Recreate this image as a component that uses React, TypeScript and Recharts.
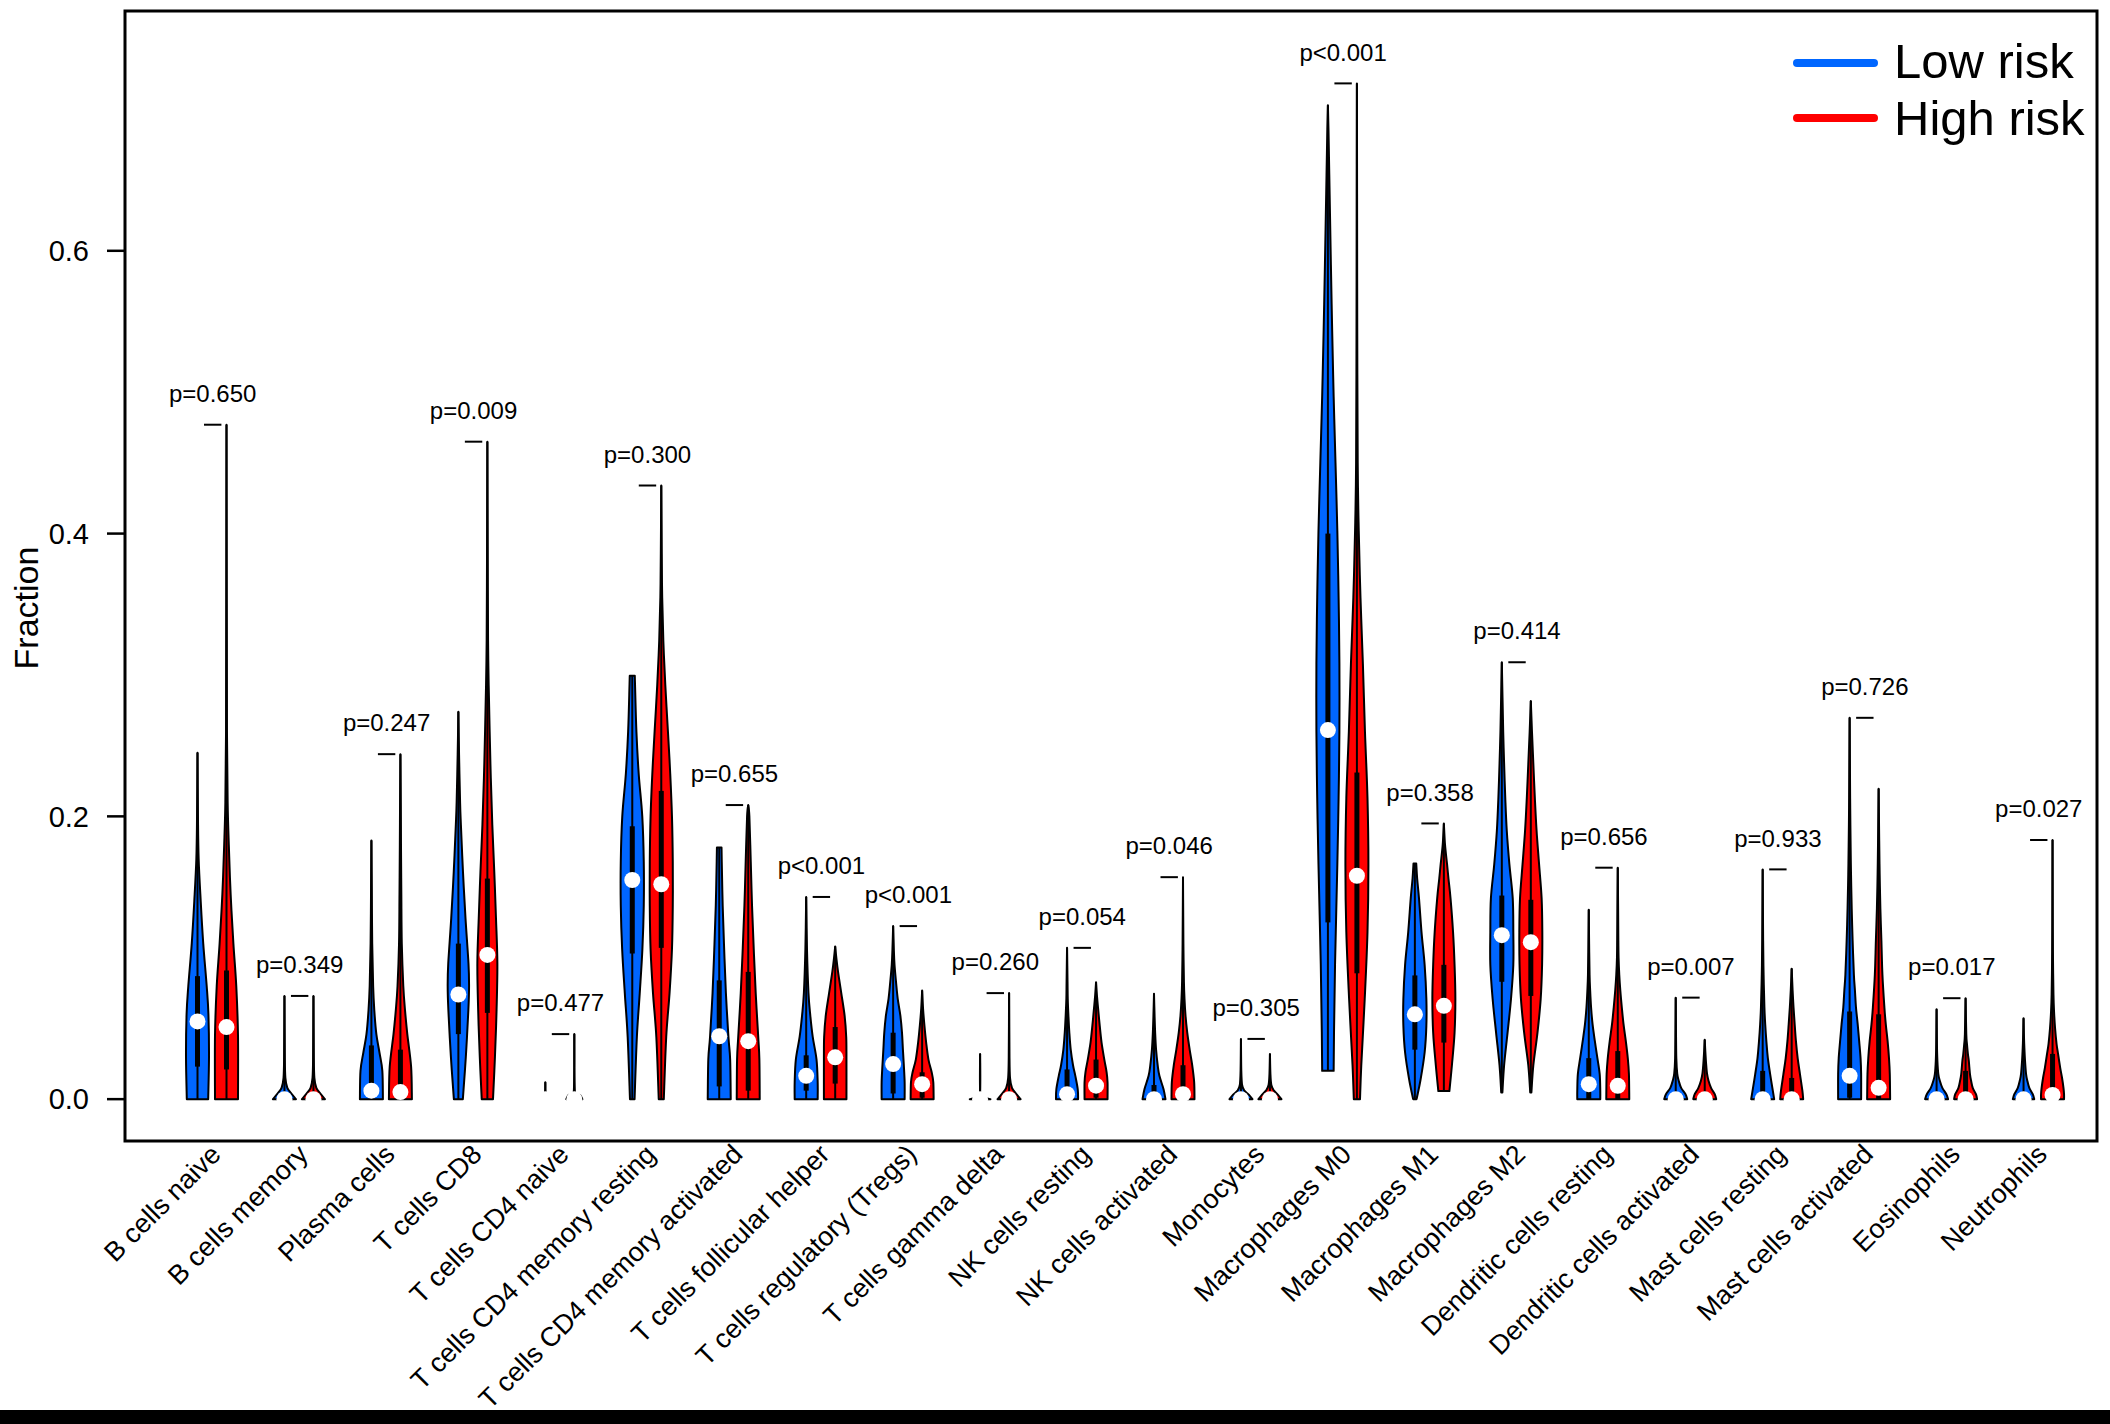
import React from "react";
import { ComposedChart, Bar, XAxis, YAxis } from "recharts";

// cell types on the x axis
const categories = [
  "B cells naive",
  "B cells memory",
  "Plasma cells",
  "T cells CD8",
  "T cells CD4 naive",
  "T cells CD4 memory resting",
  "T cells CD4 memory activated",
  "T cells follicular helper",
  "T cells regulatory (Tregs)",
  "T cells gamma delta",
  "NK cells resting",
  "NK cells activated",
  "Monocytes",
  "Macrophages M0",
  "Macrophages M1",
  "Macrophages M2",
  "Dendritic cells resting",
  "Dendritic cells activated",
  "Mast cells resting",
  "Mast cells activated",
  "Eosinophils",
  "Neutrophils",
];

const pLabels = [
  "p=0.650", "p=0.349", "p=0.247", "p=0.009", "p=0.477", "p=0.300",
  "p=0.655", "p<0.001", "p<0.001", "p=0.260", "p=0.054", "p=0.046",
  "p=0.305", "p<0.001", "p=0.358", "p=0.414", "p=0.656", "p=0.007",
  "p=0.933", "p=0.726", "p=0.017", "p=0.027",
];

// [q1, median, q3]
const lowQuartiles = [
  [0.023, 0.055, 0.087], [0, 0, 0.002], [0, 0.006, 0.038], [0.046, 0.074, 0.11],
  [0, 0, 0], [0.103, 0.155, 0.193], [0.009, 0.0445, 0.084], [0.006, 0.0165, 0.031],
  [0.004, 0.0248, 0.047], [0, 0, 0], [0, 0.0035, 0.021], [0, 0, 0.01],
  [0, 0, 0.002], [0.125, 0.261, 0.4], [0.035, 0.06, 0.0875], [0.083, 0.116, 0.144],
  [0, 0.0106, 0.029], [0, 0, 0.002], [0, 0, 0.02], [0.001, 0.0165, 0.062],
  [0, 0, 0.003], [0, 0, 0.003],
];

const highQuartiles = [
  [0.021, 0.051, 0.091], [0, 0, 0.002], [0, 0.005, 0.035], [0.061, 0.102, 0.156],
  [0, 0, 0], [0.107, 0.152, 0.218], [0.006, 0.041, 0.09], [0.011, 0.0296, 0.051],
  [0.001, 0.0106, 0.019], [0, 0, 0.001], [0.001, 0.0095, 0.028], [0, 0.0035, 0.024],
  [0, 0, 0.001], [0.089, 0.158, 0.231], [0.04, 0.066, 0.095], [0.073, 0.111, 0.141],
  [0, 0.0094, 0.034], [0, 0, 0.002], [0, 0, 0.015], [0, 0.008, 0.06],
  [0, 0, 0.02], [0, 0.003, 0.032],
];

// violin outlines: [value, relative width] from min to max
const lowShape = [
  [[0, .93], [0.03, 1], [0.06, .95], [0.08, .8], [0.11, .5], [0.14, .28], [0.17, .1], [0.2, .04], [0.245, 0]],
  [[0, 1], [0.004, .6], [0.008, .25], [0.015, .08], [0.03, .03], [0.073, 0]],
  [[0, 1], [0.02, .95], [0.033, .7], [0.046, .43], [0.063, .25], [0.08, .15], [0.11, .07], [0.15, .03], [0.183, 0]],
  [[0, .39], [0.03, .65], [0.063, .87], [0.08, .93], [0.096, .88], [0.128, .62], [0.161, .4], [0.194, .22], [0.21, .15], [0.244, .06], [0.274, 0]],
  [[0, .5], [0.002, .3], [0.004, .03], [0.012, 0]],
  [[0, .2], [0.044, .4], [0.075, .65], [0.106, .88], [0.137, 1], [0.168, 1], [0.2, .87], [0.23, .56], [0.26, .36], [0.293, .24], [0.2995, .22]],
  [[0, 1], [0.028, .95], [0.044, .8], [0.075, .58], [0.106, .43], [0.137, .3], [0.168, .22], [0.178, .2]],
  [[0, 1], [0.012, 1], [0.028, .9], [0.044, .57], [0.059, .36], [0.075, .2], [0.106, .07], [0.143, 0]],
  [[0, 1], [0.012, 1], [0.024, .93], [0.035, .85], [0.047, .77], [0.059, .63], [0.071, .4], [0.083, .25], [0.095, .12], [0.106, .06], [0.1224, 0]],
  [[0, .9], [0.001, .4], [0.003, .02], [0.032, 0]],
  [[0, .96], [0.007, .93], [0.0165, .72], [0.024, .52], [0.035, .32], [0.047, .2], [0.059, .12], [0.071, .06], [0.083, .04], [0.107, 0]],
  [[0, 1], [0.007, .83], [0.0165, .47], [0.024, .32], [0.035, .18], [0.047, .1], [0.059, .05], [0.0745, 0]],
  [[0, 1], [0.003, .7], [0.006, .3], [0.01, .1], [0.02, .03], [0.0426, 0]],
  [[0.02, .5], [0.047, .53], [0.095, .62], [0.166, .82], [0.213, .93], [0.26, 1], [0.308, 1], [0.355, .93], [0.402, .82], [0.45, .66], [0.497, .5], [0.544, .37], [0.59, .26], [0.64, .15], [0.686, .05], [0.703, 0]],
  [[0, .15], [0.014, .5], [0.033, .85], [0.052, 1], [0.071, 1], [0.095, .85], [0.118, .58], [0.142, .36], [0.156, .2], [0.1666, .12]],
  [[0.0047, .05], [0.024, .2], [0.047, .5], [0.071, .8], [0.095, 1], [0.118, 1], [0.142, .95], [0.166, .66], [0.19, .43], [0.213, .3], [0.237, .2], [0.26, .12], [0.284, .06], [0.309, 0]],
  [[0, 1], [0.006, 1], [0.0177, .95], [0.029, .75], [0.041, .53], [0.053, .33], [0.065, .2], [0.077, .12], [0.088, .07], [0.11, .03], [0.134, 0]],
  [[0, 1], [0.0035, .85], [0.008, .47], [0.013, .26], [0.018, .13], [0.029, .05], [0.05, .02], [0.0718, 0]],
  [[0, 1], [0.006, .88], [0.0177, .65], [0.029, .45], [0.041, .32], [0.053, .22], [0.065, .15], [0.088, .08], [0.112, .04], [0.1625, 0]],
  [[0, 1], [0.0177, 1], [0.029, .95], [0.041, .83], [0.053, .7], [0.065, .55], [0.077, .46], [0.088, .37], [0.112, .26], [0.135, .18], [0.159, .12], [0.183, .08], [0.206, .05], [0.23, .03], [0.2697, 0]],
  [[0, 1], [0.0035, .85], [0.008, .5], [0.013, .28], [0.0177, .15], [0.027, .07], [0.039, .03], [0.0636, 0]],
  [[0, .93], [0.0035, .8], [0.008, .5], [0.013, .33], [0.0177, .22], [0.027, .13], [0.0365, .07], [0.046, .03], [0.0572, 0]],
];

const highShape = [
  [[0, 1], [0.045, 1], [0.08, .85], [0.11, .6], [0.145, .36], [0.18, .2], [0.21, .1], [0.26, .04], [0.35, .02], [0.477, 0]],
  [[0, 1], [0.004, .6], [0.008, .25], [0.015, .08], [0.03, .03], [0.073, 0]],
  [[0, 1], [0.023, .93], [0.046, .6], [0.063, .4], [0.08, .25], [0.11, .12], [0.145, .08], [0.18, .05], [0.21, .03], [0.244, 0]],
  [[0, .49], [0.03, .66], [0.063, .8], [0.096, .87], [0.128, .75], [0.161, .6], [0.194, .43], [0.227, .3], [0.26, .2], [0.31, .08], [0.36, .04], [0.465, 0]],
  [[0, .7], [0.003, .5], [0.005, .05], [0.046, 0]],
  [[0, .22], [0.044, .43], [0.075, .72], [0.106, .93], [0.137, 1], [0.168, 1], [0.2, .93], [0.23, .78], [0.26, .58], [0.293, .35], [0.324, .18], [0.355, .08], [0.386, .04], [0.434, 0]],
  [[0, 1], [0.028, .97], [0.044, .87], [0.075, .65], [0.106, .48], [0.137, .33], [0.168, .22], [0.2, .1], [0.208, 0]],
  [[0, .98], [0.028, .98], [0.044, .96], [0.059, .82], [0.075, .53], [0.09, .25], [0.1, .1], [0.108, 0]],
  [[0, 1], [0.012, .97], [0.019, .83], [0.028, .55], [0.04, .35], [0.052, .2], [0.064, .08], [0.0768, 0]],
  [[0, 1], [0.004, .6], [0.008, .25], [0.015, .08], [0.03, .03], [0.075, 0]],
  [[0, 1], [0.012, 1], [0.019, .92], [0.028, .72], [0.04, .48], [0.052, .32], [0.064, .18], [0.073, .08], [0.0827, 0]],
  [[0, 1], [0.012, .97], [0.024, .8], [0.035, .58], [0.047, .37], [0.059, .22], [0.071, .13], [0.083, .08], [0.106, .04], [0.13, .02], [0.157, 0]],
  [[0, 1], [0.003, .7], [0.006, .35], [0.01, .12], [0.018, .04], [0.032, 0]],
  [[0, .27], [0.024, .38], [0.071, .68], [0.118, .92], [0.166, 1], [0.213, .92], [0.26, .7], [0.308, .52], [0.355, .31], [0.402, .16], [0.45, .07], [0.544, .03], [0.64, .015], [0.7184, 0]],
  [[0.0057, .48], [0.024, .7], [0.047, .93], [0.071, 1], [0.095, .93], [0.118, .8], [0.142, .58], [0.156, .4], [0.166, .28], [0.18, .1], [0.195, 0]],
  [[0.0047, .05], [0.024, .22], [0.047, .58], [0.071, .86], [0.095, .98], [0.118, 1], [0.142, .94], [0.166, .72], [0.19, .5], [0.213, .35], [0.237, .22], [0.26, .1], [0.2816, 0]],
  [[0, 1], [0.0177, .97], [0.029, .87], [0.041, .7], [0.053, .5], [0.065, .35], [0.077, .22], [0.088, .13], [0.1, .07], [0.112, .05], [0.135, .03], [0.1637, 0]],
  [[0, 1], [0.0035, .87], [0.008, .55], [0.013, .33], [0.018, .2], [0.025, .12], [0.034, .05], [0.042, 0]],
  [[0, 1], [0.006, .93], [0.0177, .72], [0.029, .52], [0.041, .37], [0.053, .26], [0.065, .16], [0.077, .08], [0.0923, 0]],
  [[0, 1], [0.0177, .97], [0.029, .9], [0.041, .78], [0.053, .62], [0.065, .5], [0.088, .33], [0.112, .24], [0.135, .15], [0.159, .09], [0.183, .05], [0.2196, 0]],
  [[0, 1], [0.0035, .9], [0.008, .62], [0.013, .48], [0.0177, .38], [0.027, .28], [0.032, .2], [0.039, .12], [0.046, .06], [0.0714, 0]],
  [[0, 1], [0.0035, 1], [0.008, .95], [0.0153, .82], [0.022, .67], [0.032, .48], [0.039, .35], [0.05, .22], [0.062, .13], [0.074, .08], [0.098, .04], [0.12, .02], [0.1833, 0]],
];

const yTicks = [0, 0.2, 0.4, 0.6];

const LOW_COLOR = "#0066ff";
const HIGH_COLOR = "#ff0000";
const FONT = "'Liberation Sans', Arial, Helvetica, sans-serif";

const span = (s: number[][]) => [s[0][0], s[s.length - 1][0]];

const rows = categories.map((name, i) => {
  const low = span(lowShape[i]);
  const high = span(highShape[i]);
  const top = Math.max(low[1], high[1]);
  return {
    name,
    low,
    high,
    bracket: [0, top],
    top,
    p: pLabels[i],
    lowQ: lowQuartiles[i],
    highQ: highQuartiles[i],
    lowS: lowShape[i],
    highS: highShape[i],
  };
});

// catmull-rom through the points, as cubic beziers
const smooth = (pts: number[][]) => {
  let d = "";
  for (let k = 0; k < pts.length - 1; k++) {
    const p0 = pts[k - 1] || pts[k];
    const p1 = pts[k];
    const p2 = pts[k + 1];
    const p3 = pts[k + 2] || p2;
    const c1 = [p1[0] + (p2[0] - p0[0]) / 6, p1[1] + (p2[1] - p0[1]) / 6];
    const c2 = [p2[0] - (p3[0] - p1[0]) / 6, p2[1] - (p3[1] - p1[1]) / 6];
    d += ` C${c1[0]},${c1[1]} ${c2[0]},${c2[1]} ${p2[0]},${p2[1]}`;
  }
  return d;
};

const makeViolin = (key: "low" | "high", fill: string) => (props: any) => {
  const { x, y, width, height, payload } = props;
  const shape: number[][] = payload[key + "S"];
  const q: number[] = payload[key + "Q"];
  const top = Math.min(y, y + height);
  const bot = Math.max(y, y + height);
  const vMin = shape[0][0];
  const vMax = shape[shape.length - 1][0];
  const toY = (v: number) => top + ((vMax - v) / (vMax - vMin)) * (bot - top);
  const cx = x + width / 2;
  const half = width / 2;
  const right = shape.map(([v, w]) => [cx + w * half, toY(v)]);
  const left = shape.map(([v, w]) => [cx - w * half, toY(v)]).reverse();
  const d =
    `M${left[left.length - 1][0]},${left[left.length - 1][1]} L${right[0][0]},${right[0][1]}` +
    smooth(right) +
    ` L${left[0][0]},${left[0][1]}` +
    smooth(left) +
    " Z";
  return (
    <g>
      <path d={d} fill={fill} stroke="#000" strokeWidth={2} strokeLinejoin="round" />
      <line x1={cx} x2={cx} y1={toY(vMin)} y2={toY(vMax)} stroke="#000" strokeWidth={2} />
      <rect x={cx - 2.5} width={5} y={toY(q[2])} height={Math.max(0, toY(q[0]) - toY(q[2]))} fill="#000" />
      <circle cx={cx} cy={toY(q[1])} r={8} fill="#fff" />
    </g>
  );
};

const LowViolin = makeViolin("low", LOW_COLOR);
const HighViolin = makeViolin("high", HIGH_COLOR);

const Bracket = (props: any) => {
  const { x, y, width, height, payload } = props;
  const top = Math.min(y, y + height);
  const bot = Math.max(y, y + height);
  const perUnit = (bot - top) / payload.top;
  return (
    <g>
      <line x1={x} x2={x + width} y1={top} y2={top} stroke="#000" strokeWidth={2} />
      <text
        x={x + width / 2}
        y={top - 0.02 * perUnit - 3}
        textAnchor="middle"
        dominantBaseline="central"
        fontSize={24}
        fontFamily={FONT}
        fill="#000"
      >
        {payload.p}
      </text>
    </g>
  );
};

const CategoryTick = (props: any) => {
  const { x, y, payload } = props;
  const ax = x + 10;
  const ay = y + 15;
  return (
    <text
      x={ax}
      y={ay}
      transform={`rotate(-45 ${ax} ${ay})`}
      textAnchor="end"
      fontSize={27}
      fontFamily={FONT}
      fill="#000"
    >
      {payload.value}
    </text>
  );
};

const FractionLabel = (props: any) => {
  const { viewBox } = props;
  const lx = viewBox.x + 26;
  const ly = 608;
  return (
    <text
      x={lx}
      y={ly}
      transform={`rotate(-90 ${lx} ${ly})`}
      textAnchor="middle"
      dominantBaseline="central"
      fontSize={34}
      fontFamily={FONT}
      fill="#000"
    >
      Fraction
    </text>
  );
};

const W = 2110;
const H = 1424;
const PLOT = { left: 125, top: 11, right: 2097, bottom: 1141 };

export default function App() {
  return (
    <div style={{ position: "absolute", left: 0, top: 0, width: W, height: H, background: "#fff", overflow: "hidden" }}>
      <ComposedChart
        width={W}
        height={H}
        data={rows}
        barGap={6}
        margin={{ top: PLOT.top, right: W - PLOT.right, bottom: 0, left: 0 }}
      >
        <XAxis
          dataKey="name"
          interval={0}
          height={H - PLOT.bottom}
          padding={{ left: 44, right: 15 }}
          axisLine={false}
          tickLine={false}
          tickSize={0}
          tickMargin={0}
          tick={<CategoryTick />}
        />
        <XAxis xAxisId="br" dataKey="name" hide padding={{ left: 44, right: 15 }} />
        <YAxis
          type="number"
          width={PLOT.left}
          domain={[-0.0296, 0.7696]}
          allowDataOverflow
          ticks={yTicks}
          tickFormatter={(v: number) => v.toFixed(1)}
          axisLine={false}
          tickLine={{ stroke: "#000", strokeWidth: 2.5 }}
          tickSize={18}
          tickMargin={18}
          tick={{ fill: "#000", fontSize: 29, fontFamily: FONT }}
          label={<FractionLabel />}
        />
        <Bar dataKey="low" barSize={23} shape={<LowViolin />} isAnimationActive={false} />
        <Bar dataKey="high" barSize={23} shape={<HighViolin />} isAnimationActive={false} />
        <Bar xAxisId="br" dataKey="bracket" barSize={17.4} shape={<Bracket />} isAnimationActive={false} />
      </ComposedChart>
      <svg width={W} height={H} style={{ position: "absolute", left: 0, top: 0, pointerEvents: "none" }}>
        <rect
          x={PLOT.left}
          y={PLOT.top}
          width={PLOT.right - PLOT.left}
          height={PLOT.bottom - PLOT.top}
          fill="none"
          stroke="#000"
          strokeWidth={3}
        />
        <line x1={1797} x2={1874} y1={63} y2={63} stroke={LOW_COLOR} strokeWidth={8} strokeLinecap="round" />
        <line x1={1797} x2={1874} y1={118} y2={118} stroke={HIGH_COLOR} strokeWidth={8} strokeLinecap="round" />
        <text x={1894} y={78} fontSize={49} fontFamily={FONT} fill="#000">Low risk</text>
        <text x={1894} y={135} fontSize={49} fontFamily={FONT} fill="#000">High risk</text>
        <rect x={0} y={1410} width={W} height={H - 1410} fill="#000" />
      </svg>
    </div>
  );
}
